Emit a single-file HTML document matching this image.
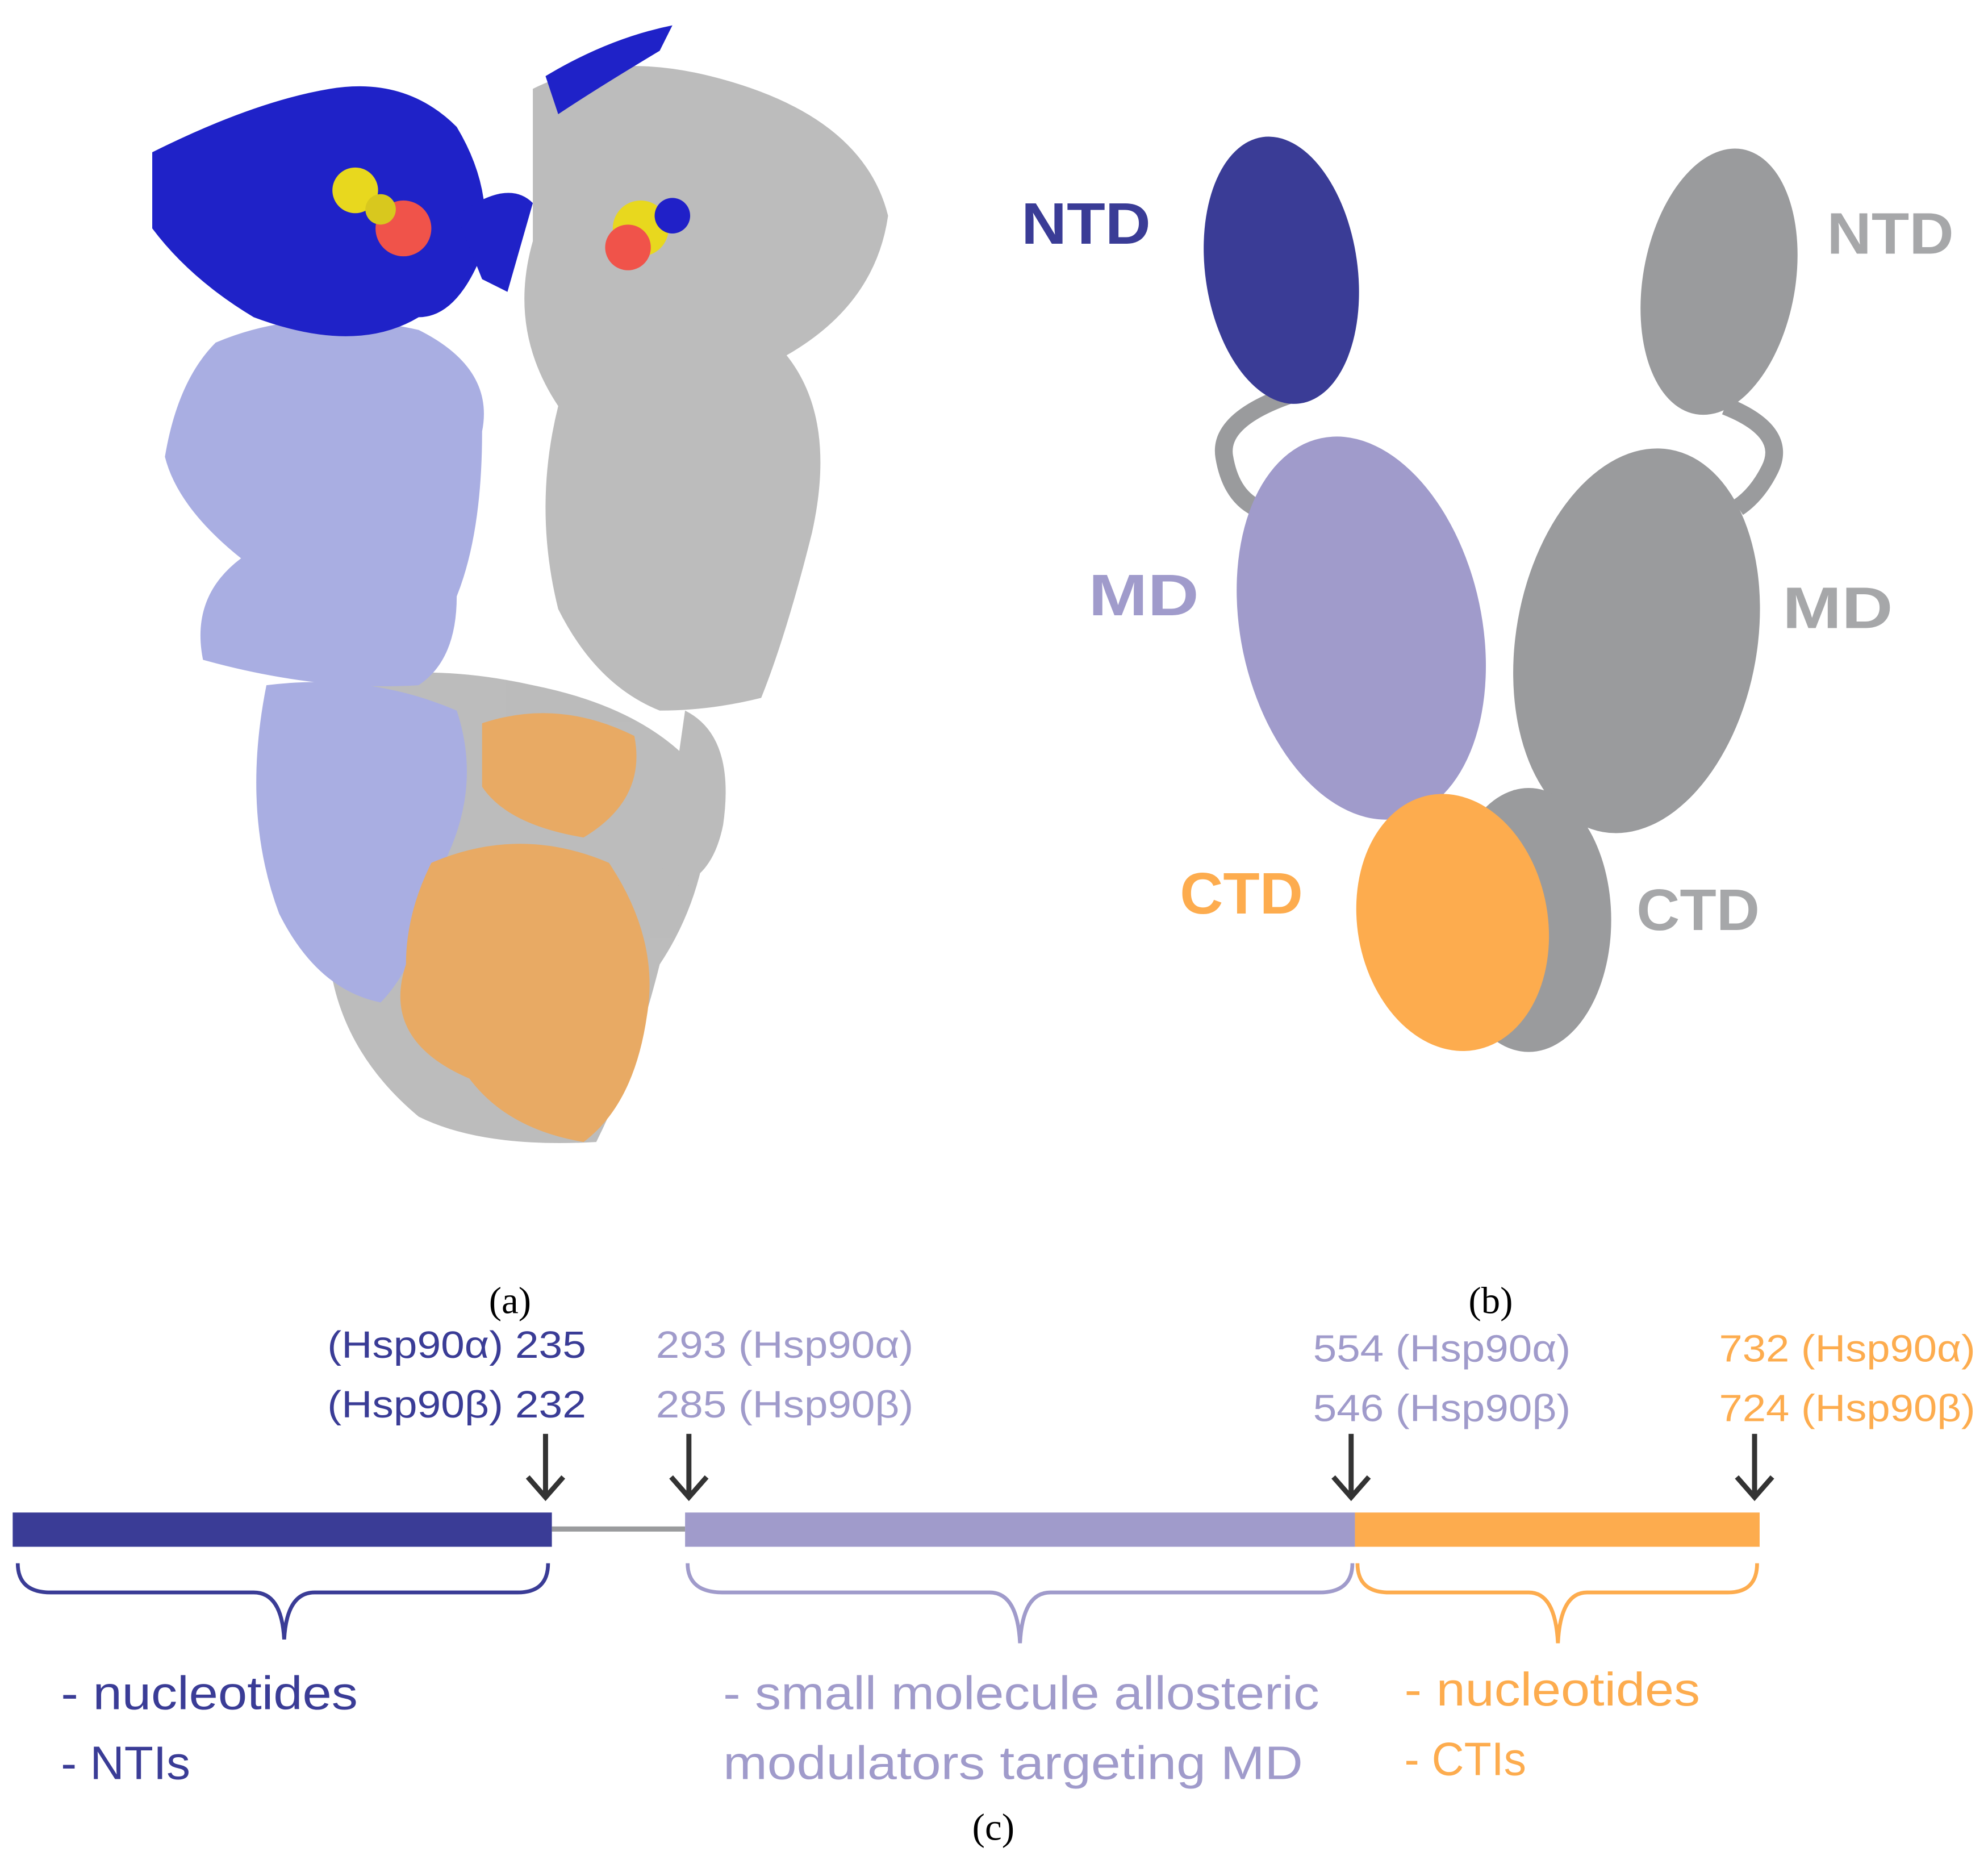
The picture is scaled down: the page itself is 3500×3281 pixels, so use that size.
<!DOCTYPE html>
<html><head><meta charset="utf-8"><style>
html,body{margin:0;padding:0;background:#fff;}
svg{display:block;}
text{font-family:"Liberation Sans",sans-serif;}
</style></head><body>
<svg width="3500" height="3281" viewBox="0 0 1567 1469" preserveAspectRatio="none">
<rect width="1567" height="1469" fill="#fff"/>
<g>
 <g fill="#b8b8b8" opacity="0.95">
  <path d="M420 70 Q480 40 560 60 Q680 90 700 170 Q690 240 620 280 Q660 330 640 420 Q620 500 600 550 Q560 560 520 560 Q470 540 440 480 Q420 400 440 320 Q400 260 420 190 Z"/>
  <path d="M260 540 Q330 520 420 540 Q520 560 560 620 Q560 700 520 760 Q500 840 470 900 Q380 905 330 880 Q270 830 260 760 Q240 650 260 540 Z"/>
  <path d="M540 560 Q580 580 570 650 Q560 700 520 700 Z"/>
 </g>
 <g fill="#a9aee2">
  <path d="M170 270 Q240 240 330 260 Q390 290 380 340 Q380 420 360 470 Q360 520 330 540 Q250 545 160 520 Q150 470 190 440 Q140 400 130 360 Q140 300 170 270 Z"/>
  <path d="M210 540 Q290 530 360 560 Q380 620 350 680 Q330 760 300 790 Q250 780 220 720 Q190 640 210 540 Z"/>
 </g>
 <g fill="#1f22c8">
  <path d="M120 120 Q200 80 260 70 Q320 60 360 100 Q390 150 380 200 Q360 250 330 250 Q280 280 200 250 Q150 220 120 180 Z"/>
  <path d="M430 60 Q480 30 530 20 L520 40 Q470 70 440 90 Z"/>
  <path d="M360 170 Q400 140 420 160 L400 230 L380 220 Z"/>
 </g>
 <g fill="#e8aa64">
  <path d="M380 570 Q440 550 500 580 Q510 630 460 660 Q400 650 380 620 Z"/>
  <path d="M340 680 Q410 650 480 680 Q520 740 510 800 Q500 870 460 900 Q400 890 370 850 Q300 820 320 760 Q320 720 340 680 Z"/>
 </g>
 <g>
  <circle cx="280" cy="150" r="18" fill="#e8d81e"/>
  <circle cx="318" cy="180" r="22" fill="#f0534a"/>
  <circle cx="300" cy="165" r="12" fill="#d8c81e"/>
  <circle cx="505" cy="180" r="22" fill="#e8d81e"/>
  <circle cx="495" cy="195" r="18" fill="#f0534a"/>
  <circle cx="530" cy="170" r="14" fill="#2020c8"/>
 </g>
</g>
<g>
 <path d="M1020 310 Q960 330 965 360 Q970 390 990 400" fill="none" stroke="#9a9b9d" stroke-width="14"/>
 <path d="M1360 320 Q1410 340 1395 370 Q1385 390 1370 400" fill="none" stroke="#9a9b9d" stroke-width="14"/>
 <ellipse cx="1010" cy="213" rx="60" ry="106" transform="rotate(-8 1010 213)" fill="#3a3c96"/>
 <ellipse cx="1355" cy="222" rx="60" ry="106" transform="rotate(10 1355 222)" fill="#9a9b9d"/>
 <ellipse cx="1290" cy="505" rx="95" ry="153" transform="rotate(10 1290 505)" fill="#9a9b9d"/>
 <ellipse cx="1073" cy="495" rx="95" ry="153" transform="rotate(-12 1073 495)" fill="#a09bcb"/>
 <ellipse cx="1205" cy="725" rx="65" ry="104" fill="#9a9b9d"/>
 <ellipse cx="1145" cy="727" rx="75" ry="102" transform="rotate(-10 1145 727)" fill="#fdac4e"/>
 <g font-weight="bold" font-size="46" lengthAdjust="spacingAndGlyphs">
  <text x="805" y="192" fill="#3a3c96" textLength="102" lengthAdjust="spacingAndGlyphs">NTD</text>
  <text x="1440" y="200" fill="#a6a7a9" textLength="100" lengthAdjust="spacingAndGlyphs">NTD</text>
  <text x="858" y="485" fill="#a09bcb" textLength="87" lengthAdjust="spacingAndGlyphs">MD</text>
  <text x="1405" y="495" fill="#a6a7a9" textLength="87" lengthAdjust="spacingAndGlyphs">MD</text>
  <text x="930" y="720" fill="#fdac4e" textLength="97" lengthAdjust="spacingAndGlyphs">CTD</text>
  <text x="1290" y="733" fill="#a6a7a9" textLength="97" lengthAdjust="spacingAndGlyphs">CTD</text>
 </g>
</g>
<g font-size="30" fill="#000">
 <text x="402" y="1035" text-anchor="middle" style="font-family:'Liberation Serif',serif">(a)</text>
 <text x="1175" y="1035" text-anchor="middle" style="font-family:'Liberation Serif',serif">(b)</text>
 <text x="783" y="1450" text-anchor="middle" style="font-family:'Liberation Serif',serif">(c)</text>
</g>
<g>
 <rect x="10" y="1192" width="425" height="27" fill="#3a3c96"/>
 <line x1="435" y1="1205" x2="540" y2="1205" stroke="#9a9b9d" stroke-width="4"/>
 <rect x="540" y="1192" width="528" height="27" fill="#a09bcb"/>
 <rect x="1068" y="1192" width="319" height="27" fill="#fdac4e"/>
 <g stroke="#333" stroke-width="4" fill="none">
  <path d="M430 1130 V1180 M416 1164 L430 1180 L444 1164"/>
  <path d="M543 1130 V1180 M529 1164 L543 1180 L557 1164"/>
  <path d="M1065 1130 V1180 M1051 1164 L1065 1180 L1079 1164"/>
  <path d="M1383 1130 V1180 M1369 1164 L1383 1180 L1397 1164"/>
 </g>
 <g font-size="30">
  <text x="258" y="1070" textLength="204" lengthAdjust="spacingAndGlyphs" fill="#3a3c96">(Hsp90α) 235</text>
  <text x="258" y="1117" textLength="204" lengthAdjust="spacingAndGlyphs" fill="#3a3c96">(Hsp90β) 232</text>
  <text x="517" y="1070" textLength="203" lengthAdjust="spacingAndGlyphs" fill="#a09bcb">293 (Hsp90α)</text>
  <text x="517" y="1117" textLength="203" lengthAdjust="spacingAndGlyphs" fill="#a09bcb">285 (Hsp90β)</text>
  <text x="1035" y="1073" textLength="203" lengthAdjust="spacingAndGlyphs" fill="#a09bcb">554 (Hsp90α)</text>
  <text x="1035" y="1120" textLength="203" lengthAdjust="spacingAndGlyphs" fill="#a09bcb">546 (Hsp90β)</text>
  <text x="1355" y="1073" textLength="202" lengthAdjust="spacingAndGlyphs" fill="#fdac4e">732 (Hsp90α)</text>
  <text x="1355" y="1120" textLength="202" lengthAdjust="spacingAndGlyphs" fill="#fdac4e">724 (Hsp90β)</text>
 </g>
 <g fill="none" stroke-width="3">
  <path d="M14 1232 Q14 1255 40 1255 L200 1255 Q222 1255 224 1292 Q226 1255 248 1255 L408 1255 Q432 1255 432 1232" stroke="#3a3c96"/>
  <path d="M542 1232 Q542 1255 570 1255 L780 1255 Q802 1255 804 1295 Q806 1255 828 1255 L1040 1255 Q1066 1255 1066 1232" stroke="#a09bcb"/>
  <path d="M1070 1232 Q1070 1255 1095 1255 L1205 1255 Q1226 1255 1228 1295 Q1230 1255 1251 1255 L1362 1255 Q1385 1255 1385 1232" stroke="#fdac4e"/>
 </g>
 <g font-size="37">
  <text x="48" y="1347" textLength="234" lengthAdjust="spacingAndGlyphs" fill="#3a3c96">- nucleotides</text>
  <text x="48" y="1402" textLength="102" lengthAdjust="spacingAndGlyphs" fill="#3a3c96">- NTIs</text>
  <text x="570" y="1347" textLength="470" lengthAdjust="spacingAndGlyphs" fill="#a09bcb">- small molecule allosteric</text>
  <text x="570" y="1402" textLength="457" lengthAdjust="spacingAndGlyphs" fill="#a09bcb">modulators targeting MD</text>
  <text x="1107" y="1344" textLength="233" lengthAdjust="spacingAndGlyphs" fill="#fdac4e">- nucleotides</text>
  <text x="1107" y="1399" textLength="96" lengthAdjust="spacingAndGlyphs" fill="#fdac4e">- CTIs</text>
 </g>
</g>
</svg>
</body></html>
